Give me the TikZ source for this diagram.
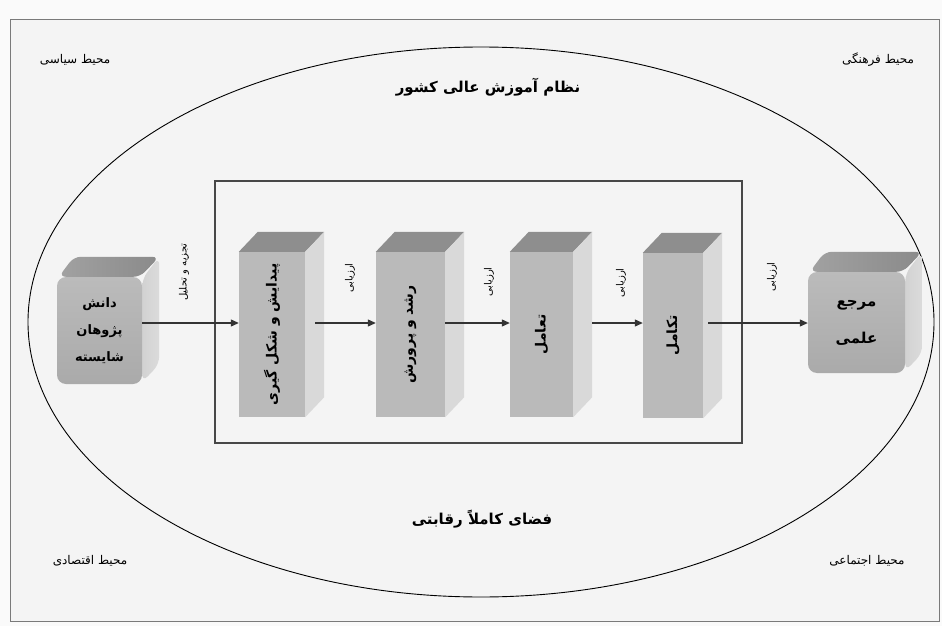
\documentclass[tikz,border=0pt]{standalone}
\usepackage{fontspec}
\usetikzlibrary{arrows.meta}
\TeXXeTstate=1
\newfontfamily\fa[Script=Arabic]{DejaVu Sans}
\pgfdeclarelayer{back}\pgfdeclarelayer{mid}
\pgfsetlayers{back,mid,main}
\definecolor{pagec}{HTML}{FAFAFA}
\definecolor{bgc}{HTML}{F4F4F4}
\definecolor{framec}{HTML}{7A7A7A}
\definecolor{frontc}{HTML}{BABABA}
\definecolor{topc}{HTML}{8E8E8E}
\definecolor{sidec}{HTML}{D9D9D9}
\definecolor{boxc}{HTML}{AAAAAA}
\definecolor{boxtop}{HTML}{8A8A8A}
\definecolor{boxside}{HTML}{D2D2D2}
\definecolor{linec}{HTML}{333333}
\tikzset{
  envlbl/.style={font=\fa\fontsize{12}{14}\selectfont, inner sep=0pt},
  titlelbl/.style={font=\fa\bfseries\fontsize{15}{18}\selectfont, inner sep=0pt},
  prism/.style={rectangle, fill=frontc, inner sep=0pt, minimum height=165pt,
    font=\fa\bfseries\fontsize{14}{16}\selectfont},
  rbox/.style={rectangle, rounded corners=9pt, inner sep=0pt, align=center,
    top color=boxc!80!white, bottom color=boxc},
  arr/.style={draw=linec, line width=1.1pt, -{Triangle[length=8pt,width=7pt]}},
  evallbl/.style={font=\fa\fontsize{10}{12}\selectfont, inner sep=0pt, rotate=90},
}
\newcommand\prismfaces[1]{%
  \begin{pgfonlayer}{mid}
    \fill[topc] (#1.north west) -- ([shift={(19,-20)}]#1.north west)
      -- ([shift={(19,-20)}]#1.north east) -- (#1.north east) -- cycle;
    \fill[sidec] (#1.north east) -- ([shift={(19,-20)}]#1.north east)
      -- ([shift={(19,-20)}]#1.south east) -- (#1.south east) -- cycle;
  \end{pgfonlayer}}
\newcommand\boxfaces[1]{%
  \begin{pgfonlayer}{mid}
    \shade[left color=boxside, right color=boxside!80!white, rounded corners=8pt]
      ([yshift=-2pt]#1.north east) -- ([shift={(17,-20)}]#1.north east)
      -- ([shift={(17,-20)}]#1.south east) -- ([yshift=2pt]#1.south east) -- cycle;
    \shade[left color=boxtop!80!white, right color=boxtop, rounded corners=7pt]
      ([xshift=2pt]#1.north west) -- ([shift={(17,-20)}]#1.north west)
      -- ([shift={(17,-20)}]#1.north east) -- ([xshift=-2pt]#1.north east) -- cycle;
  \end{pgfonlayer}}
\begin{document}
\begin{tikzpicture}[x=1pt,y=-1pt]
\useasboundingbox (0,0) rectangle (942,626);
\begin{pgfonlayer}{back}
  \fill[pagec] (0,0) rectangle (942,626);
  \draw[framec, fill=bgc, line width=1pt] (10,20) rectangle (939,621);
  \draw[black, line width=0.9pt] (481,322) ellipse [x radius=453, y radius=275];
  \draw[linec!90, line width=1.2pt] (215,181) rectangle (742,443);
\end{pgfonlayer}

\coordinate (axis) at (0,323);

% environment labels
\node[envlbl] (pol) at (75,60) {\beginR محیط سیاسی\endR};
\node[envlbl] (cul) at (878,60) {\beginR محیط فرهنگی\endR};
\node[envlbl] (eco) at (90,561) {\beginR محیط اقتصادی\endR};
\node[envlbl] (soc) at (867,561) {\beginR محیط اجتماعی\endR};

\node[titlelbl] (sys) at (488,87) {\beginR نظام آموزش عالی کشور\endR};
\node[titlelbl] (comp) at (482,519) {\beginR فضای کاملاً رقابتی\endR};

% source and target boxes
\node[rbox, minimum width=85pt, minimum height=107pt,
  font=\fa\bfseries\fontsize{13}{27}\selectfont] (src) at (99.5,330.5)
  {\beginR دانش\endR\\\beginR پژوهان\endR\\\beginR شایسته\endR};
\boxfaces{src}
\node[rbox, minimum width=97pt, minimum height=101pt,
  font=\fa\bfseries\fontsize{15}{37}\selectfont] (dst) at (856.5,322.5)
  {\beginR مرجع\endR\\\beginR علمی\endR};
\boxfaces{dst}

% stages
\node[prism, minimum width=66pt] (p1) at (272,334.5) {\rotatebox{90}{\beginR پیدایش و شکل گیری\endR}};
\prismfaces{p1}
\node[prism, minimum width=69pt] (p2) at (410.5,334.5) {\rotatebox{90}{\beginR رشد و پرورش\endR}};
\prismfaces{p2}
\node[prism, minimum width=63pt] (p3) at (541.5,334.5) {\rotatebox{90}{\beginR تعامل\endR}};
\prismfaces{p3}
\node[prism, minimum width=60pt] (p4) at (673,335.5) {\rotatebox{90}{\beginR تکامل\endR}};
\prismfaces{p4}

% connectors
\draw[arr] (src.east |- axis) -- (p1.west |- axis);
\draw[arr] ([xshift=10pt]p1.east |- axis) -- (p2.west |- axis);
\draw[arr] (p2.east |- axis) -- (p3.west |- axis);
\draw[arr] ([xshift=19pt]p3.east |- axis) -- (p4.west |- axis);
\draw[arr] ([xshift=5pt]p4.east |- axis) -- (dst.west |- axis);

% connector labels
\node[evallbl] (l1) at (184,272) {\beginR تجزیه و تحلیل\endR};
\node[evallbl] (l2) at (350,278) {\beginR ارزیابی\endR};
\node[evallbl] (l3) at (489,282) {\beginR ارزیابی\endR};
\node[evallbl] (l4) at (621,283) {\beginR ارزیابی\endR};
\node[evallbl] (l5) at (772,277) {\beginR ارزیابی\endR};
\end{tikzpicture}
\end{document}
